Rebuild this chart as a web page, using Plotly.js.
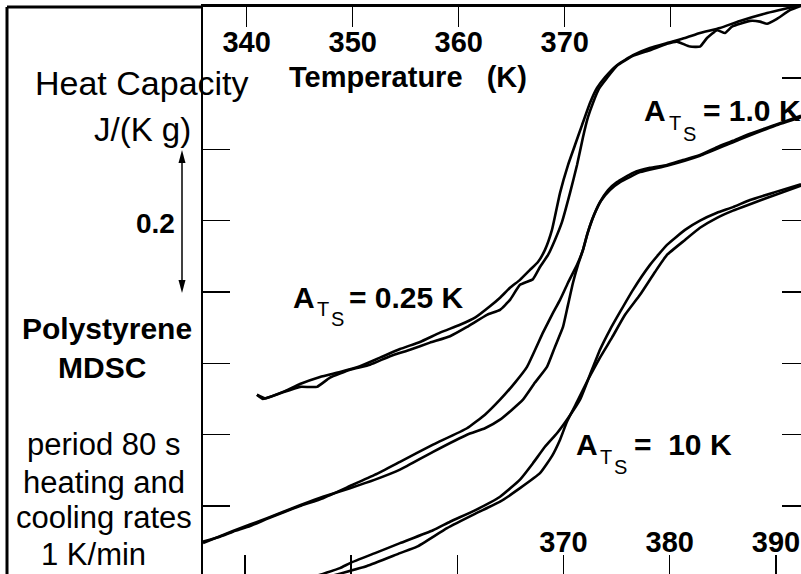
<!DOCTYPE html>
<html>
<head>
<meta charset="utf-8">
<script src="https://cdn.plot.ly/plotly-3.0.1.min.js"></script>
<style>html,body{margin:0;padding:0;background:#fff;}#chart{width:801px;height:574px;}</style>
</head>
<body>
<div id="chart"></div>
<script>
// Temperature (K) and heat capacity (J/(K g), curves offset vertically)
// A_Ts = 0.25 K : heating / cooling
const ats025_heat_T = [341.13, 341.70, 342.36, 343.77, 345.18, 347.07, 348.95, 350.83, 352.72, 354.60, 356.48, 358.37, 360.25, 361.66, 363.07, 364.02, 364.96, 365.90, 366.84, 367.59, 368.25, 368.91, 369.67, 370.42, 371.08, 371.74, 372.49, 373.15, 373.90, 375.03, 376.54, 378.14, 379.74, 381.44, 382.85, 384.73, 386.61, 389.16, 390.85, 392.36];
const ats025_heat_Cp = [0.256, 0.250, 0.253, 0.261, 0.271, 0.281, 0.288, 0.296, 0.308, 0.320, 0.330, 0.343, 0.354, 0.364, 0.380, 0.392, 0.406, 0.417, 0.431, 0.442, 0.459, 0.487, 0.539, 0.578, 0.606, 0.634, 0.665, 0.686, 0.701, 0.718, 0.732, 0.742, 0.749, 0.756, 0.763, 0.770, 0.780, 0.791, 0.797, 0.802];
const ats025_cool_T = [341.13, 341.89, 343.30, 345.18, 346.78, 348.01, 349.89, 351.78, 353.66, 355.54, 357.42, 359.31, 360.91, 362.79, 364.02, 364.96, 365.90, 367.12, 367.78, 368.54, 369.19, 369.85, 370.61, 371.27, 371.83, 372.30, 372.77, 373.34, 374.09, 375.03, 376.54, 378.14, 379.74, 380.68, 381.91, 382.85, 383.51, 384.45, 385.20, 385.86, 387.56, 388.50, 389.16, 390.10, 391.32, 392.36];
const ats025_cool_Cp = [0.256, 0.251, 0.258, 0.267, 0.267, 0.280, 0.291, 0.298, 0.310, 0.319, 0.329, 0.338, 0.351, 0.368, 0.375, 0.389, 0.410, 0.418, 0.435, 0.452, 0.473, 0.498, 0.539, 0.578, 0.617, 0.645, 0.665, 0.685, 0.700, 0.717, 0.731, 0.739, 0.748, 0.751, 0.744, 0.744, 0.756, 0.767, 0.763, 0.772, 0.780, 0.779, 0.776, 0.783, 0.795, 0.801];

// A_Ts = 1.0 K
const ats10_heat_T = [336.05, 337.65, 338.87, 340.48, 342.08, 343.77, 345.18, 347.35, 349.89, 352.25, 354.60, 357.71, 360.91, 362.60, 364.02, 365.43, 366.56, 368.06, 368.91, 369.67, 370.42, 371.27, 371.83, 372.21, 372.68, 373.43, 374.19, 375.03, 376.54, 378.14, 379.74, 381.25, 382.85, 384.45, 385.96, 387.56, 389.91, 392.36];
const ats10_heat_Cp = [0.050, 0.057, 0.064, 0.072, 0.082, 0.092, 0.100, 0.111, 0.128, 0.144, 0.162, 0.186, 0.209, 0.228, 0.249, 0.273, 0.295, 0.343, 0.368, 0.389, 0.413, 0.438, 0.459, 0.480, 0.501, 0.526, 0.543, 0.554, 0.567, 0.574, 0.578, 0.585, 0.592, 0.603, 0.612, 0.622, 0.634, 0.647];
const ats10_cool_T = [336.05, 338.87, 342.08, 345.18, 347.35, 349.89, 352.25, 354.60, 357.71, 360.91, 362.60, 364.02, 365.15, 366.18, 367.31, 368.44, 369.19, 369.95, 370.42, 370.89, 371.36, 371.83, 372.30, 372.87, 373.53, 374.37, 375.32, 377.20, 379.74, 382.85, 385.96, 389.91, 392.36];
const ats10_cool_Cp = [0.048, 0.065, 0.083, 0.101, 0.113, 0.125, 0.137, 0.151, 0.176, 0.200, 0.209, 0.221, 0.235, 0.249, 0.273, 0.295, 0.323, 0.351, 0.382, 0.413, 0.438, 0.459, 0.484, 0.508, 0.528, 0.543, 0.554, 0.568, 0.577, 0.591, 0.610, 0.633, 0.645];

// A_Ts = 10 K
const ats100_heat_T = [346.30, 348.95, 349.89, 352.25, 354.60, 357.71, 359.31, 361.66, 364.02, 365.90, 367.12, 368.25, 369.38, 370.42, 371.55, 372.49, 373.43, 374.37, 375.32, 376.54, 378.14, 379.74, 381.44, 382.85, 384.45, 385.96, 387.56, 389.91, 392.36];
const ats100_heat_Cp = [0.000, 0.013, 0.020, 0.034, 0.048, 0.066, 0.078, 0.094, 0.113, 0.137, 0.160, 0.183, 0.202, 0.223, 0.249, 0.284, 0.319, 0.347, 0.372, 0.403, 0.438, 0.466, 0.487, 0.500, 0.511, 0.519, 0.529, 0.540, 0.551];
const ats100_cool_T = [347.68, 351.49, 354.60, 356.20, 359.03, 361.66, 364.02, 365.90, 367.78, 368.91, 369.67, 370.32, 371.27, 372.30, 373.43, 374.56, 375.79, 377.20, 378.61, 379.74, 381.44, 382.85, 384.45, 385.96, 387.56, 389.91, 392.36];
const ats100_cool_Cp = [0.000, 0.016, 0.034, 0.043, 0.069, 0.089, 0.106, 0.125, 0.146, 0.170, 0.193, 0.218, 0.246, 0.277, 0.308, 0.336, 0.368, 0.396, 0.428, 0.452, 0.473, 0.490, 0.504, 0.514, 0.523, 0.536, 0.549];

// Tick values / labels
const bottomTickVals = [340, 350, 360, 370, 380, 390];
const bottomTickText = ['', '', '', '370', '380', '390'];
const topTickVals = [340, 350, 360, 370, 380];
const topTickText = ['340', '350', '360', '370', ''];
const leftTickVals = [0.1, 0.2, 0.3, 0.4, 0.5, 0.6];
const rightTickVals = [0.1, 0.2, 0.3, 0.4, 0.5, 0.6, 0.7];

const FONT = '"Liberation Sans", Arial, Helvetica, sans-serif';
const lineStyle = {color: '#000', width: 2.6, shape: 'spline', smoothing: 0.4};

function curve(x, y) {
  return {x: x, y: y, type: 'scatter', mode: 'lines', line: lineStyle, hoverinfo: 'skip', showlegend: false, xaxis: 'x', yaxis: 'y'};
}

const traces = [
  curve(ats025_heat_T, ats025_heat_Cp),
  curve(ats025_cool_T, ats025_cool_Cp),
  curve(ats10_heat_T, ats10_heat_Cp),
  curve(ats10_cool_T, ats10_cool_Cp),
  curve(ats100_heat_T, ats100_heat_Cp),
  curve(ats100_cool_T, ats100_cool_Cp),
  {x: [], y: [], type: 'scatter', mode: 'lines', xaxis: 'x2', yaxis: 'y2', showlegend: false, hoverinfo: 'skip'}
];

// pixel helpers for decoration placement (paper coords)
const L = 203, W = 598, B = 574, H = 567;
const px = v => (v - L) / W;
const py = v => (B - v) / H;

function ann(text, x, y, size, bold, xanchor) {
  return {text: text, x: px(x), y: py(y), xref: 'paper', yref: 'paper', showarrow: false,
    xanchor: xanchor || 'center', yanchor: 'middle', borderpad: 0,
    font: {family: FONT, size: size, color: '#000', weight: bold ? 700 : 400}};
}

const NB = '\u00a0';
const annotations = [
  ann('Heat Capacity', 141.5, 83, 34, false),
  ann('J/(K g)', 142, 129, 33, false),
  ann('0.2', 155, 223, 28, true),
  ann('Polystyrene', 107, 328, 30, true),
  ann('MDSC', 102, 367, 30, true),
  ann('period 80 s', 103.5, 444, 31, false),
  ann('heating and', 104, 482, 31, false),
  ann('cooling rates', 104, 517, 31, false),
  ann('1 K/min', 93, 554, 31, false),
  ann('Temperature' + NB + NB + NB + '(K)', 288, 77.5, 29, true, 'left'),
  // A_Ts = 0.25 K
  ann('A', 292, 297, 30, true, 'left'),
  ann('T', 323, 309, 20, false),
  ann('S', 337, 319, 20, false),
  ann('= 0.25 K', 348, 297, 30, true, 'left'),
  // A_Ts = 1.0 K
  ann('A', 643, 110, 30, true, 'left'),
  ann('T', 675, 123, 20, false),
  ann('S', 689, 134, 20, false),
  ann('= 1.0 K', 702, 110, 30, true, 'left'),
  // A_Ts = 10 K
  ann('A', 575, 444, 30, true, 'left'),
  ann('T', 606, 457, 20, false),
  ann('S', 620, 467, 20, false),
  ann('=' + NB + NB + '10 K', 633, 444, 30, true, 'left')
];

const shapes = [
  // outer frame left and top (panel on the left)
  {type: 'line', xref: 'paper', yref: 'paper', x0: px(7), x1: px(7), y0: py(574), y1: py(7), line: {color: '#000', width: 3}},
  {type: 'line', xref: 'paper', yref: 'paper', x0: px(7), x1: 0, y0: 1, y1: 1, line: {color: '#000', width: 3}},
  // double arrow (0.2 J/(K g) scale bar)
  {type: 'line', xref: 'paper', yref: 'paper', x0: px(182), x1: px(182), y0: py(160), y1: py(283), line: {color: '#000', width: 1.5}},
  {type: 'path', xref: 'paper', yref: 'paper', path: 'M' + px(182) + ',' + py(150) + ' L' + px(178.5) + ',' + py(163) + ' L' + px(185.5) + ',' + py(163) + ' Z', fillcolor: '#000', line: {width: 0}},
  {type: 'path', xref: 'paper', yref: 'paper', path: 'M' + px(182) + ',' + py(293) + ' L' + px(178.5) + ',' + py(280) + ' L' + px(185.5) + ',' + py(280) + ' Z', fillcolor: '#000', line: {width: 0}}
];

const tickFont = {family: FONT, size: 29, color: '#000', weight: 700};

const layout = {
  width: 801, height: 574,
  margin: {l: 203, r: 0, t: 7, b: 0, pad: 0},
  paper_bgcolor: '#fff', plot_bgcolor: '#fff',
  showlegend: false,
  xaxis: {range: [336.05, 392.36], tickvals: bottomTickVals, ticktext: bottomTickText,
    ticks: 'inside', ticklen: 19, tickwidth: 1.5, tickcolor: '#000',
    ticklabelposition: 'inside', tickfont: tickFont,
    showline: false, showgrid: false, zeroline: false, fixedrange: true},
  xaxis2: {range: [335.88, 392.29], overlaying: 'x', side: 'top', anchor: 'y',
    tickvals: topTickVals, ticktext: topTickText,
    ticks: 'inside', ticklen: 20, tickwidth: 1.5, tickcolor: '#000',
    ticklabelposition: 'inside', ticklabelstandoff: 8, tickfont: tickFont,
    showline: true, linewidth: 3, linecolor: '#000', showgrid: false, zeroline: false, fixedrange: true},
  yaxis: {range: [0.0047, 0.7995], tickvals: leftTickVals, ticks: 'inside', ticklen: 27, tickwidth: 1.5, tickcolor: '#000',
    showticklabels: false, showline: true, linewidth: 2, linecolor: '#000', showgrid: false, zeroline: false, fixedrange: true},
  yaxis2: {range: [0.0047, 0.7995], overlaying: 'y', side: 'right', anchor: 'x', tickvals: rightTickVals,
    ticks: 'inside', ticklen: 19, tickwidth: 1.5, tickcolor: '#000',
    showticklabels: false, showline: false, showgrid: false, zeroline: false, fixedrange: true},
  annotations: annotations,
  shapes: shapes
};

Plotly.newPlot('chart', traces, layout, {displayModeBar: false, staticPlot: true});
</script>
</body>
</html>
